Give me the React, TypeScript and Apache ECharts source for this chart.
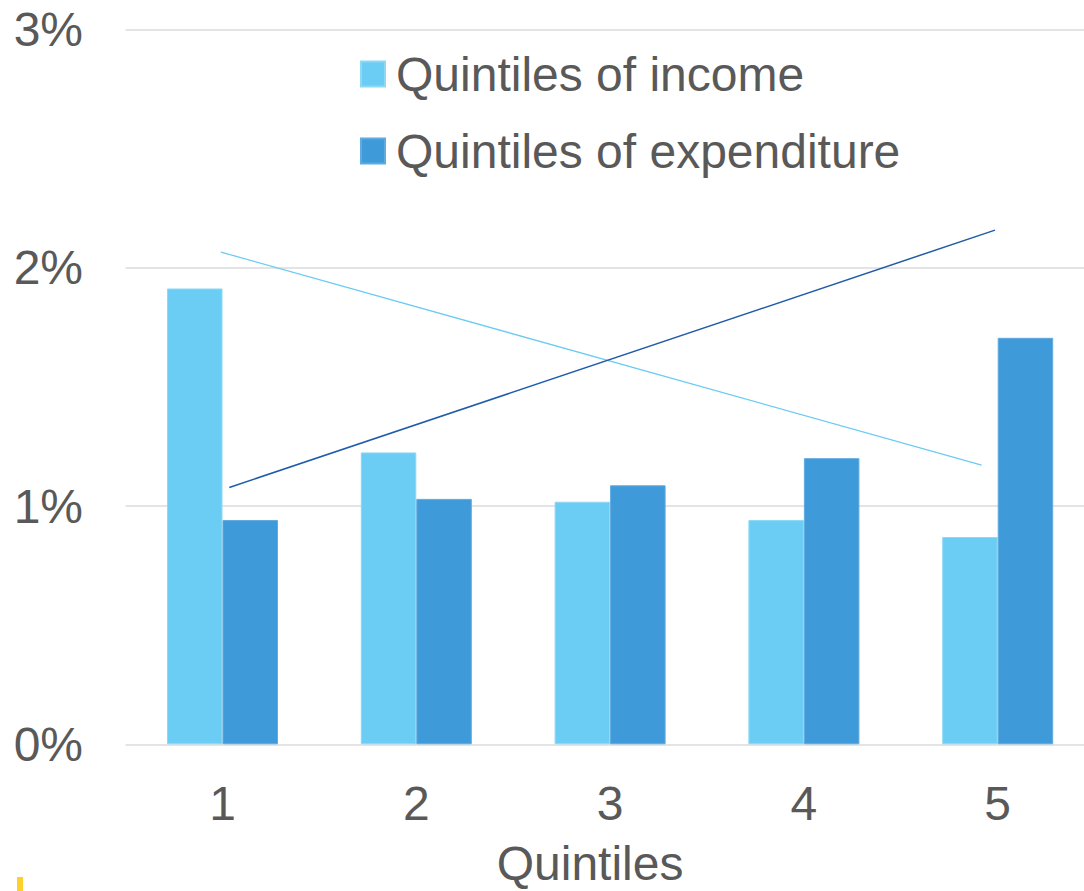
import React, { useEffect, useRef } from "react";
import * as echarts from "echarts";

// Quintile categories and their shares (in %)
const quintiles = ["1", "2", "3", "4", "5"];
const incomeShares = [1.913, 1.225, 1.018, 0.941, 0.87];
const expenditureShares = [0.941, 1.03, 1.087, 1.201, 1.706];

// Straight trend lines drawn over the bars: [quintile position, %]
const incomeTrend = [
  [0.991, 2.066],
  [4.917, 1.172],
];
const expenditureTrend = [
  [1.035, 1.078],
  [4.986, 2.158],
];

const yTicks = [0, 1, 2, 3];

const FONT = "'Liberation Sans', Arial, Helvetica, sans-serif";
const TEXT = "#595959";
const LIGHT = "#6BCDF3";
const DARK = "#3F9AD9";

export default function App() {
  const ref = useRef<HTMLDivElement>(null);

  useEffect(() => {
    if (!ref.current) return;
    const chart = echarts.init(ref.current, undefined, { renderer: "svg" });
    chart.setOption({
      animation: false,
      backgroundColor: "#ffffff",
      textStyle: { fontFamily: FONT },
      grid: {
        left: 125.6,
        top: 29.5,
        width: 969,
        height: 714.8,
        outerBoundsMode: "none",
        containLabel: false,
      },
      legend: {
        data: ["Quintiles of income", "Quintiles of expenditure"],
        orient: "vertical",
        left: 355,
        top: 45,
        itemWidth: 24,
        itemHeight: 25,
        itemGap: 29,
        icon: "rect",
        textStyle: {
          fontFamily: FONT,
          fontSize: 48,
          color: TEXT,
          padding: [12, 0, 0, 6],
        },
      },
      xAxis: [
        {
          type: "category",
          data: quintiles,
          axisLine: { show: false },
          axisTick: { show: false },
          axisLabel: { fontSize: 48, color: TEXT, margin: 35, fontFamily: FONT },
          name: "Quintiles",
          nameLocation: "middle",
          nameGap: 97.5,
          nameTextStyle: {
            fontSize: 48,
            lineHeight: 44,
            color: TEXT,
            fontFamily: FONT,
            padding: [0, 40, 0, 0],
          },
        },
        {
          type: "value",
          min: 0.5,
          max: 5.5,
          show: false,
        },
      ],
      yAxis: {
        type: "value",
        min: yTicks[0],
        max: yTicks[yTicks.length - 1],
        interval: 1,
        axisLine: { show: false },
        axisTick: { show: false },
        axisLabel: {
          fontSize: 48,
          color: TEXT,
          margin: 42.6,
          fontFamily: FONT,
          formatter: (v: number) => `${v}%`,
        },
        splitLine: { lineStyle: { color: "#E4E4E4", width: 2 } },
      },
      series: [
        {
          name: "Quintiles of income",
          type: "bar",
          data: incomeShares,
          barWidth: 55.5,
          barGap: "0%",
          itemStyle: { color: LIGHT, borderColor: "#8ED8F5", borderWidth: 1 },
        },
        {
          name: "Quintiles of expenditure",
          type: "bar",
          data: expenditureShares,
          barWidth: 55.5,
          barGap: "0%",
          itemStyle: { color: DARK, borderColor: "#5FAAE0", borderWidth: 1 },
        },
        {
          name: "Income trend",
          type: "line",
          xAxisIndex: 1,
          data: incomeTrend,
          symbol: "none",
          lineStyle: { color: "#6BCBF2", width: 1.3 },
          z: 5,
        },
        {
          name: "Expenditure trend",
          type: "line",
          xAxisIndex: 1,
          data: expenditureTrend,
          symbol: "none",
          lineStyle: { color: "#1F5BAA", width: 1.5 },
          z: 5,
        },
      ],
      graphic: [
        {
          type: "rect",
          left: 17,
          top: 877,
          shape: { width: 6, height: 14 },
          style: { fill: "#FDD02B" },
        },
      ],
    });
    return () => chart.dispose();
  }, []);

  return (
    <div
      ref={ref}
      style={{ position: "absolute", left: 0, top: 0, width: 1084, height: 891 }}
    />
  );
}
